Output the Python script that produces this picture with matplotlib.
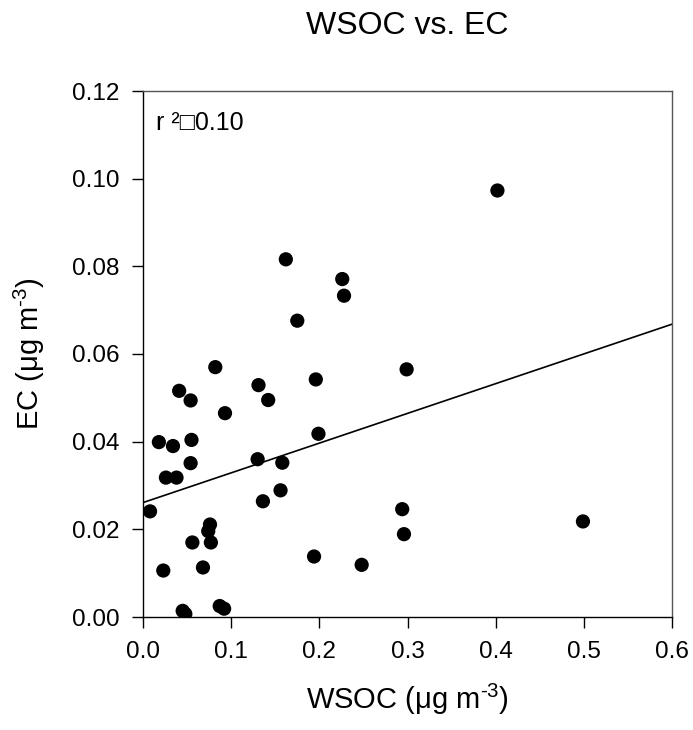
import matplotlib
matplotlib.use("Agg")
import matplotlib.pyplot as plt

plt.rcParams['font.family'] = ['Liberation Sans', 'DejaVu Sans']
plt.rcParams['mathtext.fontset'] = 'custom'
plt.rcParams['mathtext.rm'] = 'Liberation Sans'
plt.rcParams['mathtext.it'] = 'Liberation Sans:italic'

# WSOC (x) and EC (y), ug m-3
wsoc = [0.082, 0.299, 0.196, 0.131, 0.041, 0.054, 0.142, 0.093, 0.199, 0.018,
        0.034, 0.055, 0.054, 0.130, 0.158, 0.026, 0.038, 0.156, 0.136, 0.008,
        0.294, 0.296, 0.076, 0.074, 0.056, 0.077, 0.194, 0.248, 0.023, 0.068,
        0.045, 0.048, 0.087, 0.092, 0.162, 0.226, 0.228, 0.175, 0.402, 0.499]
ec = [0.0570, 0.0565, 0.0542, 0.0529, 0.0516, 0.0494, 0.0495, 0.0465, 0.0418, 0.0399,
      0.0390, 0.0404, 0.0351, 0.0360, 0.0352, 0.0318, 0.0318, 0.0289, 0.0264, 0.0241,
      0.0246, 0.0189, 0.0211, 0.0196, 0.0170, 0.0170, 0.0138, 0.0119, 0.0106, 0.0113,
      0.0014, 0.0007, 0.0025, 0.0019, 0.0816, 0.0771, 0.0733, 0.0676, 0.0973, 0.0218]

# regression line end points
fit_x = [0.0, 0.6]
fit_y = [0.0261, 0.0668]

fig = plt.figure(figsize=(6.93, 7.30), dpi=100)
ax = fig.add_axes([143/693, 1 - 617/730, 529/693, 526/730])

ax.scatter(wsoc, ec, s=105, color='black', edgecolors='none', zorder=3)
ax.plot(fit_x, fit_y, color='black', lw=1.2, zorder=2)

ax.set_xlim(0, 0.6)
ax.set_ylim(0, 0.12)
ax.set_xticks([0.0, 0.1, 0.2, 0.3, 0.4, 0.5, 0.6])
ax.set_xticklabels(['0.0', '0.1', '0.2', '0.3', '0.4', '0.5', '0.6'])
ax.set_yticks([0.00, 0.02, 0.04, 0.06, 0.08, 0.10, 0.12])
ax.set_yticklabels(['0.00', '0.02', '0.04', '0.06', '0.08', '0.10', '0.12'])
ax.tick_params(direction='out', length=8, width=1, labelsize=17.5, pad=9, color='black')

for side in ['left', 'bottom']:
    ax.spines[side].set_color('black')
    ax.spines[side].set_linewidth(1)
for side in ['top', 'right']:
    ax.spines[side].set_color('#555555')
    ax.spines[side].set_linewidth(1)

ax.set_xlabel(r'WSOC (μg m$^{\text{-3}}$)', fontsize=21, labelpad=14)
ax.set_ylabel(r'EC (μg m$^{\text{-3}}$)', fontsize=21, labelpad=18)

ax.text(0.025, 0.939, 'r ²□0.10', transform=ax.transAxes, fontsize=18,
        ha='left', va='center')

fig.text(407/693, 1 - 26/730, 'WSOC vs. EC', fontsize=23, ha='center', va='center')

fig.savefig('out.png', dpi=100)
